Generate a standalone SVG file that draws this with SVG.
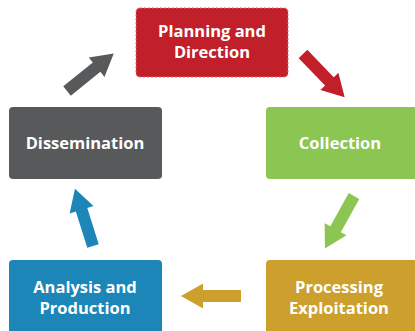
<svg xmlns="http://www.w3.org/2000/svg" xmlns:xlink="http://www.w3.org/1999/xlink" width="415" height="331" viewBox="0 0 415 331">
<style>
.lbl{font-family:"Open Sans","Liberation Sans",sans-serif;font-weight:bold;font-size:16.5px;fill:#ffffff;text-anchor:middle}
</style>
<defs>
<path id="arr" d="M0,-6 L38,-6 L38,-12.5 L60,0 L38,12.5 L38,6 L0,6 Z"/>
</defs>
<rect width="415" height="331" fill="#ffffff"/>
<g id="connectors">
<use xlink:href="#arr" fill="#58595B" transform="translate(67,91) rotate(-38.8)"/>
<use xlink:href="#arr" fill="#C1202A" transform="translate(303,54) rotate(46)"/>
<use xlink:href="#arr" fill="#8CC652" transform="translate(354,196) rotate(119)"/>
<use xlink:href="#arr" fill="#CDA02E" transform="translate(241,296) rotate(180)"/>
<use xlink:href="#arr" fill="#1B86B7" transform="translate(93,246) rotate(-107.5)"/>
</g>
<g id="planning">
<rect x="136" y="8" width="152" height="69" rx="4" fill="#C1202A" stroke="#DE6D72" stroke-width="1" stroke-dasharray="2 2"/>
<text class="lbl" x="212" y="37">Planning and</text>
<text class="lbl" x="212" y="58">Direction</text>
</g>
<g id="dissemination">
<rect x="9" y="107" width="153" height="72" rx="4" fill="#58595B"/>
<text class="lbl" x="85" y="149">Dissemination</text>
</g>
<g id="collection">
<rect x="266" y="107" width="152" height="72" rx="4" fill="#8CC652"/>
<text class="lbl" x="340" y="149">Collection</text>
</g>
<g id="analysis">
<rect x="9" y="260" width="153" height="75" rx="4" fill="#1B86B7"/>
<text class="lbl" x="85" y="293">Analysis and</text>
<text class="lbl" x="85" y="314">Production</text>
</g>
<g id="processing">
<rect x="266" y="260" width="152" height="75" rx="4" fill="#CDA02E"/>
<text class="lbl" x="339" y="293">Processing</text>
<text class="lbl" x="339" y="314">Exploitation</text>
</g>
</svg>
